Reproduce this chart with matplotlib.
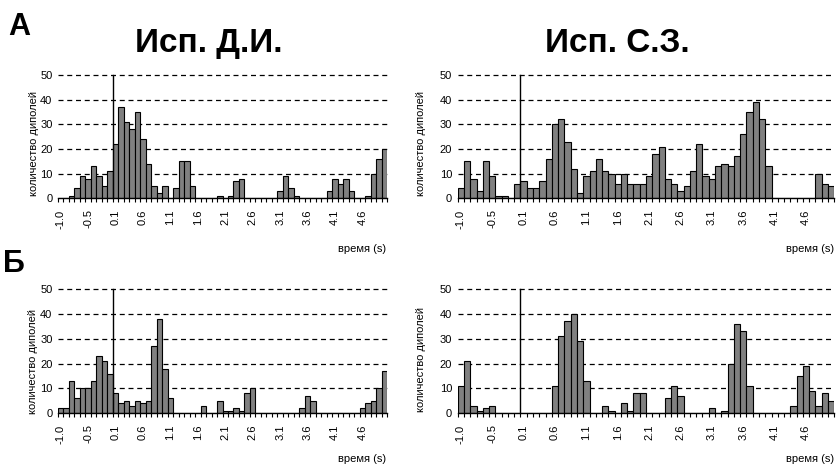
import numpy as np
import matplotlib
matplotlib.use('Agg')
import matplotlib.pyplot as plt
from matplotlib.ticker import FixedLocator

plt.rcParams['font.family'] = ['Liberation Sans', 'DejaVu Sans']

# 0.1 s bins from -1.0 to 5.0 (60 bins), labels every 5th bin
tick_labels = ['-1.0', '-0.5', '0.1', '0.6', '1.1', '1.6', '2.1', '2.6',
               '3.1', '3.6', '4.1', '4.6']

# А, Исп. Д.И.
counts_a_di = [0, 0, 1, 4, 9, 8, 13, 9, 5, 11,
               22, 37, 31, 28, 35, 24, 14, 5, 2, 5,
               0, 4, 15, 15, 5, 0, 0, 0, 0, 1,
               0, 1, 7, 8, 0, 0, 0, 0, 0, 0,
               3, 9, 4, 1, 0, 0, 0, 0, 0, 3,
               8, 6, 8, 3, 0, 0, 1, 10, 16, 20]
# А, Исп. С.З.
counts_a_sz = [4, 15, 8, 3, 15, 9, 1, 1, 0, 6,
               7, 4, 4, 7, 16, 30, 32, 23, 12, 2,
               9, 11, 16, 11, 10, 6, 10, 6, 6, 6,
               9, 18, 21, 8, 6, 3, 5, 11, 22, 9,
               8, 13, 14, 13, 17, 26, 35, 39, 32, 13,
               0, 0, 0, 0, 0, 0, 0, 10, 6, 5]
# Б, Исп. Д.И.
counts_b_di = [2, 2, 13, 6, 10, 10, 13, 23, 21, 16,
               8, 4, 5, 3, 5, 4, 5, 27, 38, 18,
               6, 0, 0, 0, 0, 0, 3, 0, 0, 5,
               1, 1, 2, 1, 8, 10, 0, 0, 0, 0,
               0, 0, 0, 0, 2, 7, 5, 0, 0, 0,
               0, 0, 0, 0, 0, 2, 4, 5, 10, 17]
# Б, Исп. С.З.
counts_b_sz = [11, 21, 3, 1, 2, 3, 0, 0, 0, 0,
               0, 0, 0, 0, 0, 11, 31, 37, 40, 29,
               13, 0, 0, 3, 1, 0, 4, 1, 8, 8,
               0, 0, 0, 6, 11, 7, 0, 0, 0, 0,
               2, 0, 1, 20, 36, 33, 11, 0, 0, 0,
               0, 0, 0, 3, 15, 19, 9, 3, 8, 5]

W, H = 837, 465
fig = plt.figure(figsize=(W / 100, H / 100), dpi=100)


def box(left, right, top, bottom):
    return [left / W, 1 - bottom / H, (right - left) / W, (bottom - top) / H]


def draw(rect, counts):
    ax = fig.add_axes(rect)
    n = len(counts)
    ax.bar(np.arange(n) + 0.5, counts, width=1.0, color='#808080',
           edgecolor='black', linewidth=0.8, zorder=3)
    for yv in range(10, 60, 10):
        ax.axhline(yv, color='black', lw=0.9, ls=(0, (4, 3)), zorder=1,
                   clip_on=False)
    ax.plot([10, 10], [0, 50], color='black', lw=1, zorder=4, clip_on=False)
    ax.set_xlim(0, n)
    ax.set_ylim(0, 50)
    for s in ['top', 'right', 'left']:
        ax.spines[s].set_visible(False)
    ax.spines['bottom'].set_linewidth(1)
    ax.spines['bottom'].set_zorder(5)
    ax.set_yticks(range(0, 60, 10))
    ax.tick_params(axis='y', length=0, pad=4, labelsize=8)
    ax.set_xticks(np.arange(0, n, 5) + 0.5)
    ax.set_xticklabels(tick_labels, rotation=90, fontsize=8)
    ax.xaxis.set_minor_locator(FixedLocator(np.arange(0, n + 1)))
    ax.tick_params(axis='x', which='major', length=0, pad=8)
    ax.tick_params(axis='x', which='minor', length=3, width=0.8,
                   direction='out')
    return ax


draw(box(58, 387, 75, 198.3), counts_a_di)
draw(box(457.7, 834.3, 75, 198.3), counts_a_sz)
draw(box(58, 387, 289, 413.3), counts_b_di)
draw(box(457.7, 834.3, 289, 413.3), counts_b_sz)


def ftext(x, y, s, **kw):
    fig.text(x / W, 1 - y / H, s, **kw)


ftext(209, 52, 'Исп. Д.И.', fontsize=24, fontweight='bold',
      ha='center', va='baseline')
ftext(617, 52, 'Исп. С.З.', fontsize=24, fontweight='bold',
      ha='center', va='baseline')
ftext(8, 35, 'А', fontsize=22, fontweight='bold', ha='left', va='baseline')
ftext(3, 272, 'Б', fontsize=22, fontweight='bold', ha='left', va='baseline')

ylab = 'количество диполей'
ftext(34, 144, ylab, fontsize=8, rotation=90, ha='center', va='center')
ftext(421, 144, ylab, fontsize=8, rotation=90, ha='center', va='center')
ftext(33, 362, ylab, fontsize=8, rotation=90, ha='center', va='center')
ftext(421, 360, ylab, fontsize=8, rotation=90, ha='center', va='center')

ftext(386, 252, 'время (s)', fontsize=8, ha='right', va='baseline')
ftext(834, 252, 'время (s)', fontsize=8, ha='right', va='baseline')
ftext(386, 462, 'время (s)', fontsize=8, ha='right', va='baseline')
ftext(834, 462, 'время (s)', fontsize=8, ha='right', va='baseline')

fig.savefig('out.png', dpi=100)
